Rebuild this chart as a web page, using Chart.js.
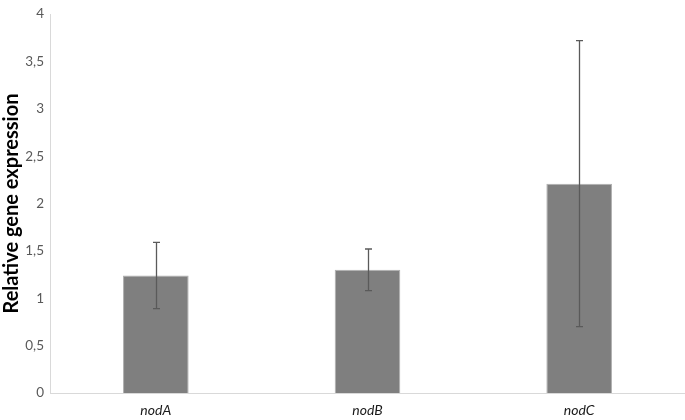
<!DOCTYPE html>
<html>
<head>
<meta charset="utf-8">
<script src="https://cdn.jsdelivr.net/npm/chart.js@4/dist/chart.umd.min.js"></script>
<style>
  html, body { margin: 0; padding: 0; background: #fff; }
  #wrap { width: 685px; height: 420px; }
</style>
</head>
<body>
<div id="wrap"><canvas id="c"></canvas></div>
<script>
// данные с картинки
const genes = ['nodA', 'nodB', 'nodC'];
const expression = [1.24, 1.30, 2.21];
const errors = [0.35, 0.22, 1.51];
const yTicks = [0, 0.5, 1, 1.5, 2, 2.5, 3, 3.5, 4];

// Плагин: усы погрешностей
const errorBarPlugin = {
  id: 'errorBars',
  afterDatasetsDraw(chart) {
    const { ctx, scales } = chart;
    const meta = chart.getDatasetMeta(0);
    ctx.save();
    ctx.strokeStyle = '#5a5a5a';
    ctx.lineWidth = 1.3;
    meta.data.forEach((bar, i) => {
      const x = Math.round(bar.x) + 0.5;
      const top = scales.y.getPixelForValue(expression[i] + errors[i]);
      const bot = scales.y.getPixelForValue(expression[i] - errors[i]);
      ctx.beginPath();
      ctx.moveTo(x, top); ctx.lineTo(x, bot);
      ctx.moveTo(x - 3.5, top); ctx.lineTo(x + 3.5, top);
      ctx.moveTo(x - 3.5, bot); ctx.lineTo(x + 3.5, bot);
      ctx.stroke();
    });
    ctx.restore();
  },
};

new Chart(document.getElementById('c'), {
  type: 'bar',
  data: {
    labels: genes,
    datasets: [{
      data: expression,
      backgroundColor: '#7f7f7f',
      borderColor: '#b0b0b0',
      borderWidth: 1,
      barPercentage: 0.31,
      categoryPercentage: 1,
    }],
  },
  options: {
    responsive: true,
    maintainAspectRatio: false,
    animation: false,
    layout: { padding: { top: 7, right: 0, left: 0, bottom: 0 } },
    plugins: { legend: { display: false }, tooltip: { enabled: false } },
    scales: {
      x: {
        grid: { display: false, drawTicks: false },
        border: { color: '#d9d9d9', width: 1 },
        ticks: { color: '#1a1a1a', padding: 9, font: { family: 'Lato', size: 14, style: 'italic' } },
        afterFit(s) { s.height = 27; },
      },
      y: {
        min: 0, max: 4,
        grid: { display: false, drawTicks: false },
        border: { color: '#d9d9d9', width: 1 },
        afterBuildTicks(s) { s.ticks = yTicks.map(v => ({ value: v })); },
        ticks: {
          color: '#595959', padding: 6,
          font: { family: 'Lato', size: 13.5 },
          callback: v => String(v).replace('.', ','),
        },
        title: {
          display: true, text: 'Relative gene expression', color: '#000',
          font: { family: 'Lato', size: 20, weight: 'bold' }, padding: 0,
        },
        afterFit(s) { s.width = 50; },
      },
    },
  },
  plugins: [errorBarPlugin],
});
</script>
</body>
</html>
